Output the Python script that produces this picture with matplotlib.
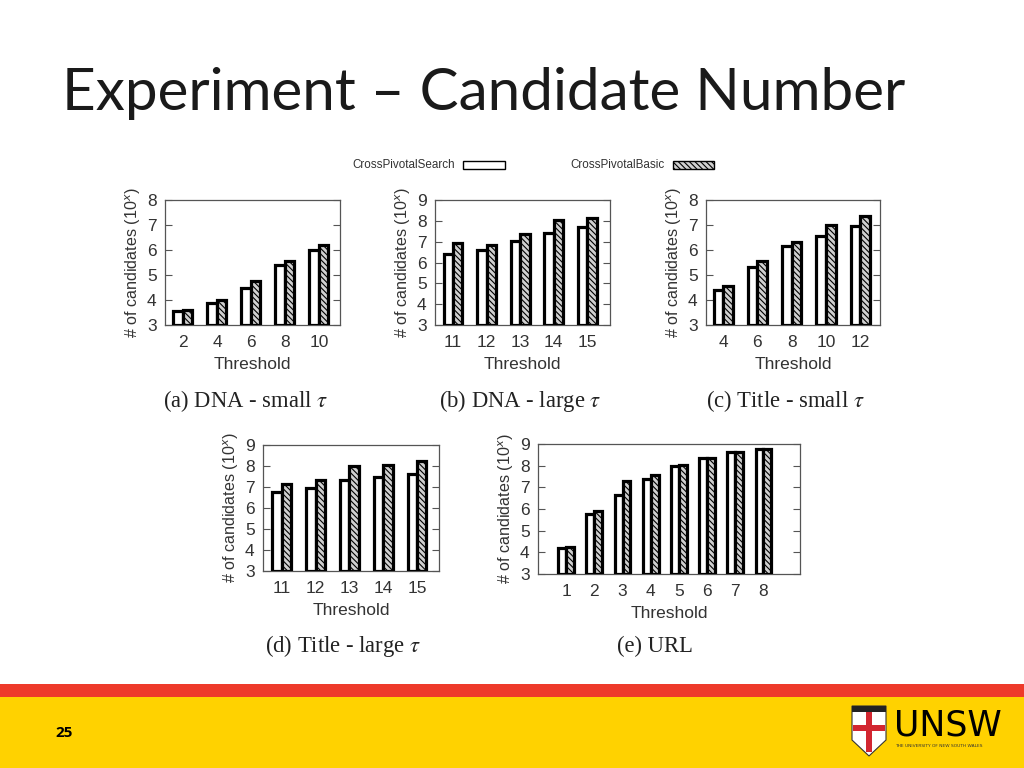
import matplotlib
matplotlib.use("Agg")
from matplotlib import pyplot as plt
from matplotlib.patches import Rectangle, Polygon
import numpy as np

# data
dna_small_x = ['2', '4', '6', '8', '10']
dna_small_search = [3.55, 3.9, 4.5, 5.4, 6.0]
dna_small_basic = [3.6, 4.02, 4.75, 5.55, 6.2]

dna_large_x = ['11', '12', '13', '14', '15']
dna_large_search = [6.4, 6.62, 7.02, 7.42, 7.68]
dna_large_basic = [6.92, 6.82, 7.38, 8.05, 8.15]

title_small_x = ['4', '6', '8', '10', '12']
title_small_search = [4.42, 5.32, 6.15, 6.55, 6.97]
title_small_basic = [4.57, 5.58, 6.3, 7.0, 7.35]

title_large_x = ['11', '12', '13', '14', '15']
title_large_search = [6.75, 6.95, 7.35, 7.5, 7.62]
title_large_basic = [7.15, 7.35, 8.0, 8.07, 8.22]

url_x = ['1', '2', '3', '4', '5', '6', '7', '8']
url_search = [4.22, 5.75, 6.65, 7.4, 7.97, 8.37, 8.62, 8.77]
url_basic = [4.26, 5.92, 7.28, 7.58, 8.02, 8.37, 8.62, 8.77]

plt.rcParams['hatch.color'] = '#444444'
plt.rcParams['hatch.linewidth'] = 0.8

fig = plt.figure(figsize=(10.24, 7.68), dpi=100)
fig.patch.set_facecolor('white')

sans = 'Liberation Sans'
serif = 'Liberation Serif'
fs = 12.5


def bar_panel(rect, labels, search, basic, ymax, xlim):
    ax = fig.add_axes(rect)
    x = np.arange(len(labels))
    w = 0.28
    ax.bar(x - w / 2, np.array(search) - 3, w, bottom=3, color='white',
           edgecolor='black', linewidth=2.3, zorder=3)
    ax.bar(x + w / 2, np.array(basic) - 3, w, bottom=3, color='#d0d0d0',
           edgecolor='black', linewidth=2.3, hatch='\\\\\\\\\\\\', zorder=3)
    ax.set_ylim(3, ymax)
    ax.set_xlim(*xlim)
    ax.set_xticks(x)
    ax.set_xticklabels(labels)
    ax.set_yticks(range(3, ymax + 1))
    ax.tick_params(axis='y', direction='in', left=True, right=True, length=5,
                   width=0.8, color='#555555', labelsize=fs, labelcolor='#333333', pad=6)
    ax.tick_params(axis='x', length=0, labelsize=fs, labelcolor='#333333', pad=7)
    for lab in ax.get_xticklabels() + ax.get_yticklabels():
        lab.set_family(sans)
    for s in ax.spines.values():
        s.set_color('#555555')
        s.set_linewidth(0.9)
    ax.set_xlabel('Threshold', family=sans, fontsize=fs, color='#333333', labelpad=5)
    ax.set_ylabel('# of candidates (10$^{x}$)', family=sans, fontsize=11.6,
                  color='#333333', labelpad=3)
    return ax


bar_panel([0.1611, 0.5768, 0.1709, 0.1628], dna_small_x, dna_small_search,
          dna_small_basic, 8, (-0.53, 4.62))
bar_panel([0.4248, 0.5768, 0.1709, 0.1628], dna_large_x, dna_large_search,
          dna_large_basic, 9, (-0.54, 4.68))
bar_panel([0.6895, 0.5768, 0.1699, 0.1628], title_small_x, title_small_search,
          title_small_basic, 8, (-0.5, 4.58))
bar_panel([0.2568, 0.2565, 0.1719, 0.1640], title_large_x, title_large_search,
          title_large_basic, 9, (-0.56, 4.65))
bar_panel([0.5254, 0.2526, 0.2559, 0.1693], url_x, url_search,
          url_basic, 9, (-1.0, 8.3))

# captions
caps = [(245, 401, '(a) DNA - small $\\tau$'), (520, 401, '(b) DNA - large $\\tau$'),
        (785, 401, '(c) Title - small $\\tau$'), (343, 646, '(d) Title - large $\\tau$'),
        (655, 646, '(e) URL')]
for cx, cy, t in caps:
    fig.text(cx / 1024, 1 - cy / 768, t, family=serif, fontsize=16.3, ha='center',
             va='center', color='#222222', math_fontfamily='stix')

# legend
fig.text(352 / 1024, 1 - 165 / 768, 'CrossPivotalSearch', family=sans, fontsize=8.4,
         va='center', color='#333333')
fig.patches.append(Rectangle((463 / 1024, 1 - 169 / 768), 42 / 1024, 8 / 768,
                             transform=fig.transFigure, facecolor='white',
                             edgecolor='black', linewidth=1.0))
fig.text(570 / 1024, 1 - 165 / 768, 'CrossPivotalBasic', family=sans, fontsize=8.4,
         va='center', color='#333333')
fig.patches.append(Rectangle((673 / 1024, 1 - 169 / 768), 41 / 1024, 8 / 768,
                             transform=fig.transFigure, facecolor='#d0d0d0',
                             edgecolor='black', linewidth=1.0, hatch='\\\\\\\\\\\\'))

# title
fig.text(62 / 1024, 1 - 93 / 768, 'Experiment \u2013 Candidate Number', family='Lato',
         fontsize=42, va='center', ha='left', color='#1a1a1a')

# footer bands
fig.patches.append(Rectangle((0, 0), 1, 71 / 768, transform=fig.transFigure,
                             facecolor='#FFD200', edgecolor='none'))
fig.patches.append(Rectangle((0, 71 / 768), 1, 13 / 768, transform=fig.transFigure,
                             facecolor='#EE3A2A', edgecolor='none'))
fig.text(55 / 1024, 1 - 733 / 768, '25', family='Open Sans', fontsize=11,
         fontweight='bold', va='center', color='black')

# UNSW logo, rough
fig.patches.append(Polygon([(852 / 1024, 1 - 706 / 768), (886 / 1024, 1 - 706 / 768),
                            (886 / 1024, 1 - 740 / 768), (869 / 1024, 1 - 756 / 768),
                            (852 / 1024, 1 - 740 / 768)], closed=True,
                           transform=fig.transFigure, facecolor='white',
                           edgecolor='#333333', linewidth=0.8))
fig.patches.append(Rectangle((866 / 1024, 1 - 752 / 768), 6 / 1024, 44 / 768,
                             transform=fig.transFigure, facecolor='#D22630', edgecolor='none'))
fig.patches.append(Rectangle((853 / 1024, 1 - 731 / 768), 32 / 1024, 6 / 768,
                             transform=fig.transFigure, facecolor='#D22630', edgecolor='none'))
fig.patches.append(Rectangle((852 / 1024, 1 - 712 / 768), 34 / 1024, 6 / 768,
                             transform=fig.transFigure, facecolor='#222222', edgecolor='none'))
fig.text(894 / 1024, 1 - 726 / 768, 'UNSW', family='Liberation Sans Narrow', fontsize=25,
         va='center', ha='left', color='black')
fig.text(895 / 1024, 1 - 746 / 768, 'THE UNIVERSITY OF NEW SOUTH WALES',
         family='Liberation Sans Narrow', fontsize=3.2, va='center', ha='left', color='#333333')

fig.savefig('out.png', dpi=100)
